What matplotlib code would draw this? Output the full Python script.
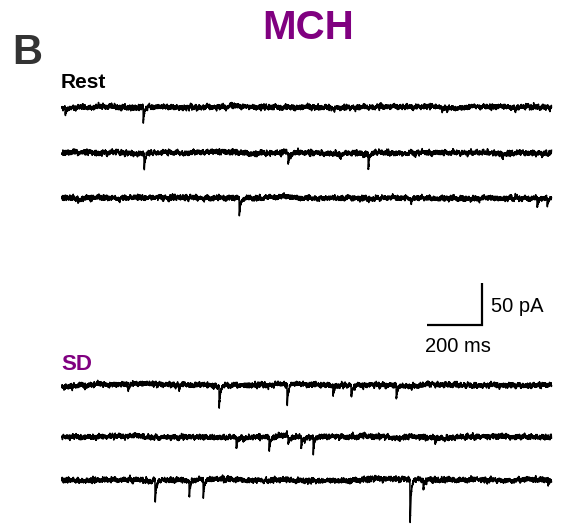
import numpy as np
import matplotlib
matplotlib.use("Agg")
import matplotlib.pyplot as plt

plt.rcParams['font.family'] = ['Liberation Sans', 'DejaVu Sans']

PURPLE = "#800080"

# Sweep length and sampling
DURATION_MS = 1780.0
DT_MS = 0.2

# Spontaneous synaptic events: onset times (ms) and amplitudes (pA), one list per sweep
rest_event_times = [
    [11, 295, 1382, 1647],
    [298, 822, 1011, 1113, 1600],
    [644, 1269, 1727, 1764],
]
rest_event_amps = [
    [10, 19, 6, 5],
    [18, 11, 6, 20, 5],
    [21, 7, 12, 7],
]
sd_event_times = [
    [240, 425, 571, 818, 985, 1051, 1215],
    [633, 658, 753, 822, 869, 913, 1356],
    [338, 462, 513, 1265, 1313, 1767],
]
sd_event_amps = [
    [6, 6, 25, 25, 12, 15, 17],
    [12, 7, 15, 8, 13, 19, 7],
    [25, 20, 20, 51, 12, 7],
]

# Scale bar values
SCALE_MS = 200
SCALE_PA = 50

# Page geometry: pixels -> data units
W_PX, H_PX = 563, 527
X0_PX = 62
MS_PER_PX = 200.0 / 55.0
PA_PER_PX = 50.0 / 42.0


def px_to_t(x):
    return (x - X0_PX) * MS_PER_PX


def px_to_y(p):
    return -p * PA_PER_PX


t = np.arange(0.0, DURATION_MS, DT_MS)
rng = np.random.default_rng(7)


def recording_noise():
    white = rng.normal(0.0, 1.0, t.size)
    fast = np.convolve(white, np.ones(3) / 3.0, mode="same") * 2.2
    mid = np.convolve(rng.normal(0.0, 1.0, t.size), np.ones(25) / 25.0, mode="same") * 3.5
    slow = np.convolve(rng.normal(0.0, 1.0, t.size), np.ones(500) / 500.0, mode="same") * 14.0
    return fast + mid + slow


def sweep(times, amps):
    y = recording_noise()
    for t0, a in zip(times, amps):
        s = t - t0
        m = s >= 0
        shape = np.zeros_like(t)
        shape[m] = (1 - np.exp(-s[m] / 0.3)) * np.exp(-s[m] / 4.0)
        y -= a * shape / shape.max()
    return y


fig = plt.figure(figsize=(W_PX / 100, H_PX / 100), dpi=100)
ax = fig.add_axes([0, 0, 1, 1])
ax.set_xlim(px_to_t(0), px_to_t(W_PX))
ax.set_ylim(px_to_y(H_PX), px_to_y(0))
ax.axis("off")

rest_baselines_px = [107, 153, 198]
sd_baselines_px = [385, 437, 480]

for base, times, amps in zip(rest_baselines_px, rest_event_times, rest_event_amps):
    ax.plot(t, px_to_y(base) + sweep(times, amps), color="black", lw=1.1)
for base, times, amps in zip(sd_baselines_px, sd_event_times, sd_event_amps):
    ax.plot(t, px_to_y(base) + sweep(times, amps), color="black", lw=1.1)

# Scale bar
cx, cy = px_to_t(482), px_to_y(325)
ax.plot([cx - SCALE_MS, cx, cx], [cy, cy, cy + SCALE_PA], color="black", lw=1.6,
        solid_joinstyle="miter", solid_capstyle="butt")
ax.text(px_to_t(491), px_to_y(306), f"{SCALE_PA} pA", fontsize=14.5, va="center", ha="left")
ax.text(px_to_t(458), px_to_y(347), f"{SCALE_MS} ms", fontsize=14.5, va="center", ha="center")

# Labels
fig.text(308 / W_PX, 1 - 28 / H_PX, "MCH", color=PURPLE, fontsize=29, fontweight="bold",
         ha="center", va="center")
fig.text(12 / W_PX, 1 - 53 / H_PX, "B", color="#333333", fontsize=30, fontweight="bold",
         ha="left", va="center")
fig.text(61 / W_PX, 1 - 82 / H_PX, "Rest", color="black", fontsize=15, fontweight="bold",
         ha="left", va="center")
fig.text(61 / W_PX, 1 - 364 / H_PX, "SD", color=PURPLE, fontsize=16, fontweight="bold",
         ha="left", va="center")

fig.savefig("out.png", dpi=100)
